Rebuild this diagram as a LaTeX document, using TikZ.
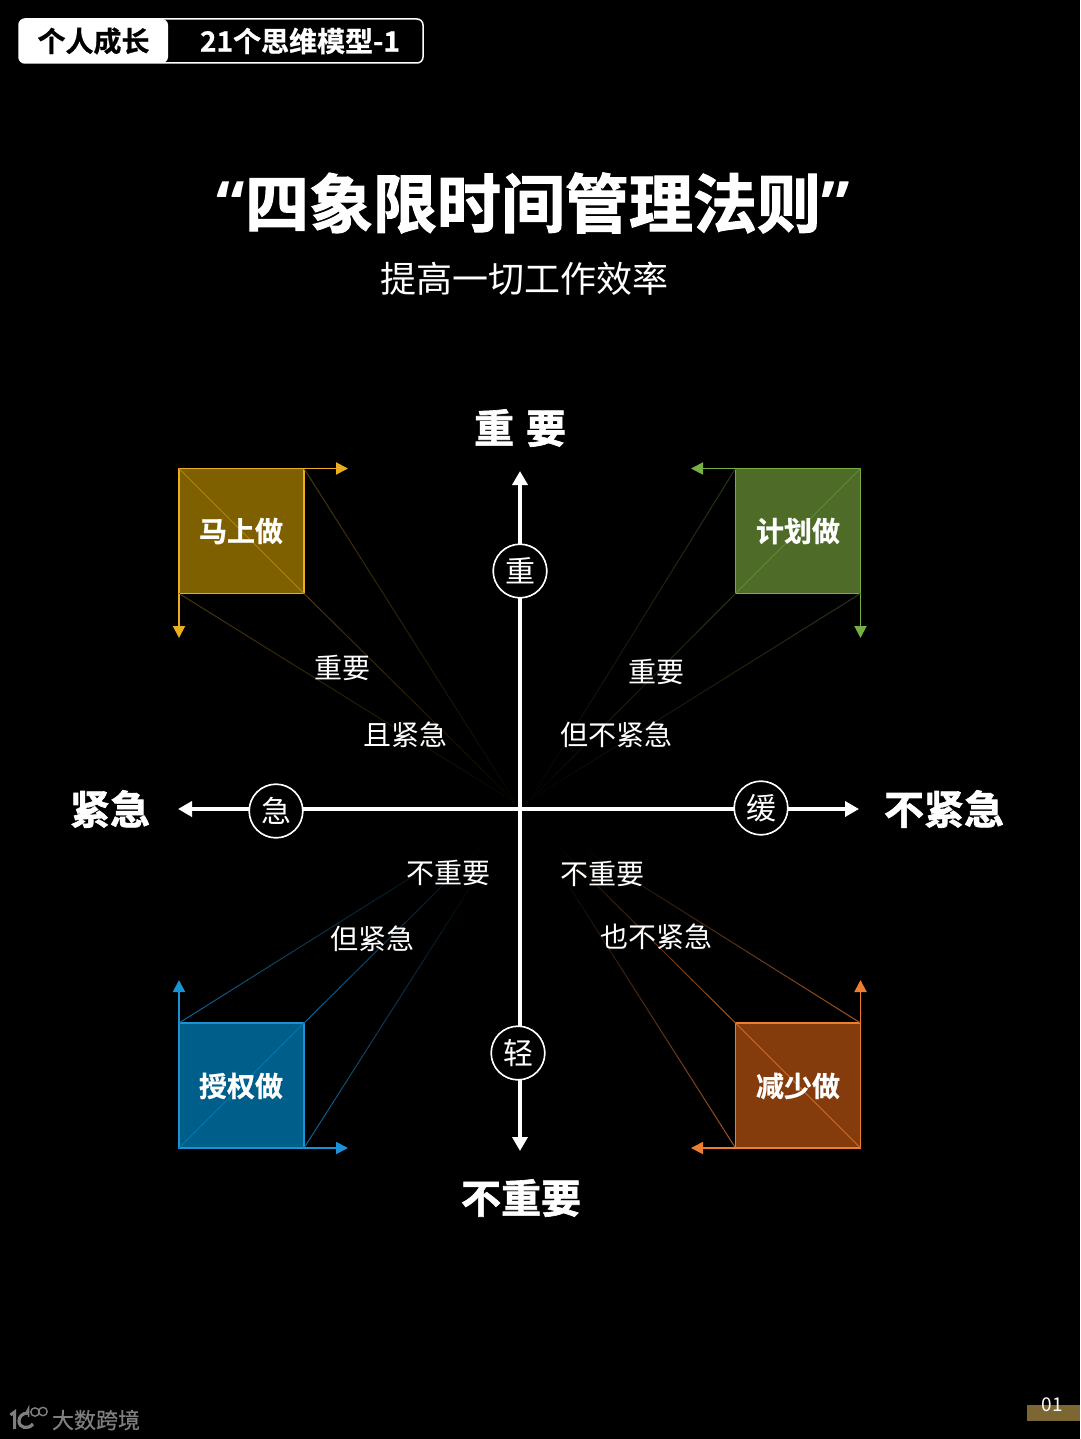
\documentclass[tikz,border=0pt]{standalone}
\usepackage{fontspec}
\usetikzlibrary{arrows.meta,calc}
\setmainfont{Noto Sans CJK SC}
\newfontfamily\cjk{Noto Sans CJK SC}
\newfontfamily\heavy[FakeBold=1.6]{Noto Sans CJK SC Bold}
\newfontfamily\semi[FakeBold=0.8]{Noto Sans CJK SC Bold}
\newfontfamily\brandfont[FakeBold=0.5]{Noto Sans CJK SC}
\newfontfamily\quotefont{Open Sans Bold}
\definecolor{tlF}{HTML}{7F6000}\definecolor{tlL}{HTML}{EBAE1E}
\definecolor{trF}{HTML}{4E6B28}\definecolor{trL}{HTML}{76B043}
\definecolor{blF}{HTML}{005E8A}\definecolor{blL}{HTML}{1A92D6}
\definecolor{brF}{HTML}{843C0C}\definecolor{brL}{HTML}{ED7D31}
\definecolor{goldbar}{HTML}{7C6631}
\definecolor{logoG}{HTML}{7F7F7F}
\tikzset{
  px/.style={x=1pt,y=-1pt},
  sq/.style={minimum size=125pt,inner sep=0pt,outer sep=0pt,line width=1.9pt,text=white,anchor=center},
  sqlabel/.style={text=white,font=\semi\fontsize{28}{28}\selectfont,inner sep=0pt},
  lab/.style={text=white,font=\cjk\fontsize{28}{28}\selectfont,inner sep=0pt},
  axlab/.style={text=white,font=\heavy\fontsize{40}{40}\selectfont,inner sep=0pt},
  ring/.style={circle,draw=white,fill=black,line width=1.5pt,outer sep=0pt,minimum size=53.5pt,inner sep=0pt,text=white,font=\cjk\fontsize{30}{30}\selectfont},
  axis/.style={white,line width=3.6pt,line cap=rect},
  axtip/.style={white,line width=3.6pt,-{Triangle[length=14pt,width=15pt]}},
  armtip/.style={line width=1.9pt,-{Triangle[length=12pt,width=12pt]}},
}
% fading line: from, to, colour, start %, end %
\newcommand{\fadeline}[5]{%
  \foreach \i in {0,...,29}{%
    \pgfmathsetmacro{\a}{\i/30}%
    \pgfmathsetmacro{\b}{(\i+1.05)/30}%
    \pgfmathsetmacro{\p}{max(0,#4+(#5-#4)*\a)}%
    \draw[line width=1pt,draw=#3!\p!black] ($(#1)!\a!(#2)$) -- ($(#1)!\b!(#2)$);%
  }}
\begin{document}
\begin{tikzpicture}[px]
\useasboundingbox (0,0) rectangle (1080,1439);
\fill[black] (0,0) rectangle (1080,1439);

% header
\fill[white,rounded corners=6pt] (19,19) rectangle (168,63);
\draw[white,line width=1.5pt,rounded corners=6pt] (19,19) rectangle (423,63);
\node[inner sep=0pt,text=black,font=\semi\fontsize{28}{28}\selectfont] (h1) at (93.5,41) {个人成长};
\node[inner sep=0pt,text=white,font=\semi\fontsize{28}{28}\selectfont] (h2) at (300,41) {21个思维模型-1};

% title
\node[inner sep=0pt,text=white,font=\heavy\fontsize{64}{64}\selectfont] (title) at (533,203) {{\quotefont “}四象限时间管理法则{\quotefont ”}};
\node[inner sep=0pt,text=white,font=\cjk\fontsize{36}{36}\selectfont] (sub) at (524,279) {提高一切工作效率};

% axes
\coordinate (cen) at (520,809);
\coordinate (tipN) at (520,471);
\coordinate (tipS) at (520,1151);
\coordinate (tipW) at (178,809);
\coordinate (tipE) at (859,809);
\node[ring] (rN) at (520,571) {重};
\node[ring] (rW) at (276,811) {急};
\node[ring] (rE) at (761,808) {缓};
\node[ring] (rS) at (518,1053) {轻};

% squares
\coordinate (fadeTL) at (516,803);
\coordinate (fadeTR) at (530,800);
\coordinate (fadeBL) at (520,809);
\coordinate (fadeBR) at (520,809);

\node[sq,draw=tlL,fill=tlF] (sTL) at (241.5,531) {};
\node[sq,draw=trL,fill=trF] (sTR) at (798,531) {};
\node[sq,draw=blL,fill=blF] (sBL) at (241.5,1085.5) {};
\node[sq,draw=brL,fill=brF] (sBR) at (798,1085.5) {};

% diagonals
\draw[line width=1pt,draw=tlL!45!tlF] (sTL.north west) -- (sTL.south east);
\draw[line width=1pt,draw=trL!45!trF] (sTR.north east) -- (sTR.south west);
\draw[line width=1pt,draw=blL!45!blF] (sBL.south west) -- (sBL.north east);
\draw[line width=1pt,draw=brL!75!brF] (sBR.north west) -- (sBR.south east);

% fading rays
\fadeline{sTL.north east}{fadeTL}{tlL}{32}{2}
\fadeline{sTL.south east}{fadeTL}{tlL}{32}{2}
\fadeline{sTL.south west}{fadeTL}{tlL}{32}{2}
\fadeline{sTR.north west}{fadeTR}{trL}{32}{2}
\fadeline{sTR.south west}{fadeTR}{trL}{32}{2}
\fadeline{sTR.south east}{fadeTR}{trL}{32}{2}
\fadeline{sBL.north west}{fadeBL}{blL}{68}{-15}
\fadeline{sBL.north east}{fadeBL}{blL}{68}{-15}
\fadeline{sBL.south east}{fadeBL}{blL}{68}{-15}
\fadeline{sBR.north east}{fadeBR}{brL}{68}{-15}
\fadeline{sBR.north west}{fadeBR}{brL}{68}{-15}
\fadeline{sBR.south west}{fadeBR}{brL}{68}{-15}

% axis lines, above the rays
\draw[axis] (cen) -- (rN.south);
\draw[axtip] (rN.north) -- (tipN);
\draw[axis] (cen) -- (rS.north -| cen);
\draw[axtip] (rS.south -| cen) -- (tipS);
\draw[axis] (cen) -- (rW.east |- cen);
\draw[axtip] (rW.west |- cen) -- (tipW);
\draw[axis] (cen) -- (rE.west |- cen);
\draw[axtip] (rE.east |- cen) -- (tipE);
\node[ring] at (rN) {重};
\node[ring] at (rW) {急};
\node[ring] at (rE) {缓};
\node[ring] at (rS) {轻};

\node[axlab] (aN) at (520,428) {重\hspace{12pt}要};
\node[axlab] (aW) at (110,809) {紧急};
\node[axlab] (aE) at (944,809) {不紧急};
\node[axlab] (aS) at (521,1198) {不重要};

% arms
\coordinate (a1) at (348,468.5); \coordinate (a2) at (179,638);
\coordinate (a3) at (691,468.5); \coordinate (a4) at (860.5,638);
\coordinate (a5) at (179,980); \coordinate (a6) at (348,1148);
\coordinate (a7) at (860.5,980); \coordinate (a8) at (691,1148);
\draw[armtip,tlL] (sTL.north east) -- (a1);
\draw[armtip,tlL] (sTL.south west) -- (a2);
\draw[armtip,trL] (sTR.north west) -- (a3);
\draw[armtip,trL] (sTR.south east) -- (a4);
\draw[armtip,blL] (sBL.north west) -- (a5);
\draw[armtip,blL] (sBL.south east) -- (a6);
\draw[armtip,brL] (sBR.north east) -- (a7);
\draw[armtip,brL] (sBR.south west) -- (a8);

\node[sqlabel] (tTL) at (241,531) {马上做};
\node[sqlabel] (tTR) at (798,531) {计划做};
\node[sqlabel] (tBL) at (241,1086) {授权做};
\node[sqlabel] (tBR) at (798,1086) {减少做};

% labels
\node[lab] (l1) at (342,668) {重要};
\node[lab] (l2) at (405.5,735) {且紧急};
\node[lab] (l3) at (656,672) {重要};
\node[lab] (l4) at (616,735) {但不紧急};
\node[lab] (l5) at (448.5,873) {不重要};
\node[lab] (l6) at (372,939) {但紧急};
\node[lab] (l7) at (602,874) {不重要};
\node[lab] (l8) at (656.5,937) {也不紧急};

% footer
\fill[goldbar] (1027,1405) rectangle (1080,1421);
\node[inner sep=0pt,text=white,font=\fontsize{19}{19}\selectfont] (pg) at (1052.5,1405) {01};
\node[inner sep=0pt,text=logoG,font=\brandfont\fontsize{22}{22}\selectfont] (brand) at (96,1420) {大数跨境};
% logo mark
\draw[logoG,line width=3pt] (10.5,1415) -- (14.5,1412) -- (14.5,1429);
\draw[logoG,line width=3.2pt] (28,1413) .. controls (22,1413) and (19,1417) .. (19,1421) .. controls (19,1428) and (28,1430) .. (33,1424);
\draw[logoG,line width=1.5pt] (26.5,1412) -- (28.5,1408) -- (28.5,1417);
\draw[logoG,line width=1.4pt] (35,1412) circle[radius=4.2];
\draw[logoG,line width=1.4pt] (43,1411.5) circle[radius=4.2];
\end{tikzpicture}
\end{document}
